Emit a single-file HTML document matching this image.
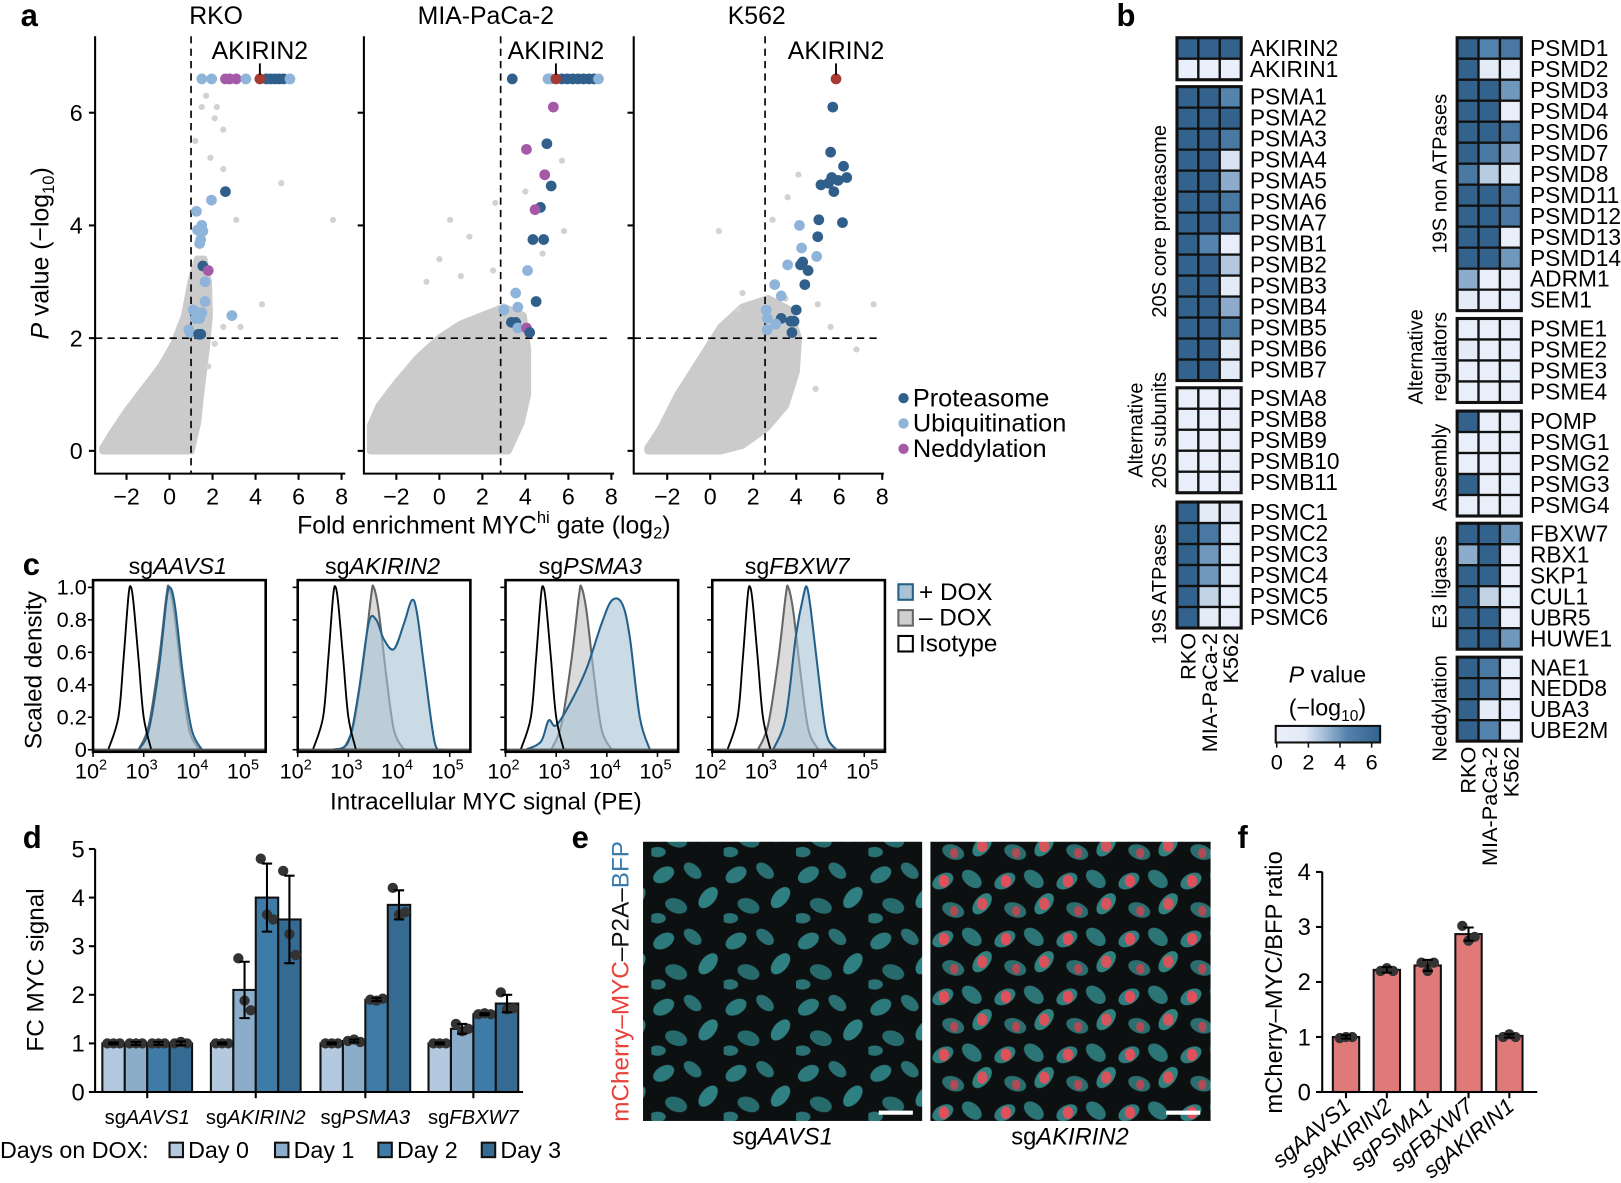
<!DOCTYPE html>
<html><head><meta charset="utf-8">
<style>
html,body{margin:0;padding:0;background:#fff;overflow:hidden}
svg{display:block;font-family:"Liberation Sans",Arial,sans-serif}
</style></head>
<body>
<svg id="fig" width="1621" height="1183" viewBox="0 0 1568 1144" preserveAspectRatio="none">
<defs>
<linearGradient id="pgrad" x1="0" x2="1" y1="0" y2="0">
<stop offset="0" stop-color="#eaf0fb"/><stop offset="0.27" stop-color="#e2eaf6"/><stop offset="0.45" stop-color="#a9c0d9"/><stop offset="0.68" stop-color="#5483ae"/><stop offset="1" stop-color="#33628d"/>
</linearGradient>
<pattern id="cells1" width="70" height="64" patternUnits="userSpaceOnUse">
<rect width="70" height="64" fill="#0d1011"/>
<ellipse cx="12" cy="14" rx="11" ry="7" fill="#2c7a7c" transform="rotate(-30 12 14)"/>
<ellipse cx="40" cy="10" rx="10" ry="6" fill="#2a6f71" transform="rotate(40 40 10)"/>
<ellipse cx="55" cy="36" rx="12" ry="7" fill="#2f8082" transform="rotate(-50 55 36)"/>
<ellipse cx="24" cy="44" rx="11" ry="7" fill="#276a6c" transform="rotate(20 24 44)"/>
<ellipse cx="6" cy="56" rx="8" ry="5" fill="#2a7274"/>
</pattern>
<pattern id="cells2" width="60" height="56" patternUnits="userSpaceOnUse">
<rect width="60" height="56" fill="#0d1011"/>
<ellipse cx="12" cy="12" rx="11" ry="7" fill="#2f7d7f" transform="rotate(-30 12 12)"/>
<ellipse cx="40" cy="10" rx="11" ry="7" fill="#2c7577" transform="rotate(40 40 10)"/>
<ellipse cx="50" cy="34" rx="12" ry="7" fill="#30827f" transform="rotate(-50 50 34)"/>
<ellipse cx="22" cy="40" rx="11" ry="7" fill="#2a6e70" transform="rotate(20 22 40)"/>
<ellipse cx="13" cy="12" rx="5" ry="6" fill="#e0505a"/>
<ellipse cx="50" cy="34" rx="5" ry="6" fill="#d8545c"/>
<ellipse cx="23" cy="41" rx="4" ry="5" fill="#b04a55"/>
</pattern>
</defs>
</svg>
<script>
// ---------- DATA ----------
const aPanels = ['RKO','MIA-PaCa-2','K562'];
const aThreshX = [1, 2.85, 2.55];
const aThreshY = 2;
const aXTicks = [-2,0,2,4,6,8];
const aYTicks = [0,2,4,6];
const rkoX = [1.5,1.96,2.6,2.8,3.1,3.55,4.2,4.5,4.7,4.9,5.1,5.3,5.6, 2.6,1.95,1.25,1.5,1.3,1.55,1.45,1.4,1.55,1.8,1.65,1.65,1.1,1.3,1.5,1.2,1.4,2.9,0.9,0.95,1.35,1.45];
const rkoY = [6.6,6.6,6.6,6.6,6.6,6.6,6.6,6.6,6.6,6.6,6.6,6.6,6.6, 4.6,4.45,4.25,4.0,3.92,3.9,3.75,3.68,3.28,3.2,3.0,2.65,2.5,2.45,2.45,2.35,2.35,2.4,2.15,2.1,2.07,2.07];
const rkoCat = ['U','U','N','N','N','U','A','P','P','P','P','P','U', 'P','U','U','U','U','U','U','U','P','N','U','U','U','U','U','U','U','U','U','U','P','P'];
const miaX = [3.39,5.05,5.2,5.42,5.7,5.95,6.2,6.45,6.7,6.95,7.2,7.4, 5.3,5.0,4.05,4.9,5.2,4.7,4.45,4.35,4.85,4.1,3.55,4.5,3.0,3.65,3.35,3.55,3.65,4.05,4.2];
const miaY = [6.6,6.6,6.6,6.6,6.6,6.6,6.6,6.6,6.6,6.6,6.6,6.6, 6.1,5.45,5.35,4.9,4.7,4.32,4.28,3.75,3.75,3.2,2.8,2.65,2.5,2.55,2.28,2.28,2.18,2.18,2.1];
const miaCat = ['P','U','U','A','P','P','P','P','P','P','P','U', 'N','P','N','N','P','P','N','P','P','U','U','P','U','U','P','P','U','N','P'];
const k562X = [5.85,5.7,5.6,6.2,6.35,5.65,5.95,5.5,5.75,5.15,6.15,5.05,4.15,5.0,4.25,4.95,4.3,4.2,4.55,3.6,4.4,3.0,3.3,2.6,4.0,2.65,3.3,3.75,3.9,3.05,3.8,2.65];
const k562Y = [6.6,6.1,5.3,5.05,4.85,4.85,4.8,4.75,4.6,4.72,4.05,4.1,4.0,3.8,3.6,3.45,3.35,3.3,3.2,3.3,2.95,2.95,2.75,2.5,2.5,2.35,2.35,2.3,2.3,2.25,2.1,2.15];
const k562Cat = ['A','P','P','P','P','P','P','P','P','P','P','P','U','P','U','U','P','P','P','U','P','U','U','U','P','U','P','P','P','U','P','U'];
const cloudRkoX = [-3.1,1.0,1.3,1.5,1.7,1.85,1.8,1.6,1.3,1.0,0.7,0.2,-0.4,-1.2,-2.0,-2.7,-3.1];
const cloudRkoY = [0,0,0.5,1.2,1.8,2.4,3.0,3.4,3.4,3.0,2.4,1.9,1.5,1.1,0.7,0.3,0.05];
const cloudMiaX = [-3.2,3.2,3.8,4.1,4.1,3.9,3.0,2.0,1.0,0,-1,-2,-2.8,-3.2];
const cloudMiaY = [0,0,0.5,1.0,1.8,2.4,2.55,2.4,2.25,2.0,1.65,1.2,0.8,0.45];
const cloudK562X = [-2.9,0.5,1.5,2.6,3.5,4.0,4.1,3.7,2.7,1.5,0.5,-0.5,-1.5,-2.3,-2.9];
const cloudK562Y = [0,0,0.1,0.4,0.8,1.4,2.0,2.5,2.7,2.55,2.2,1.6,1.0,0.4,0.05];
const outRkoX = [1.7,1.5,2.2,2.1,2.5,1.2,1.9,2.5,5.2,7.6,3.1,4.3,3.3,2.1,2.5,1.8];
const outRkoY = [6.3,6.1,6.1,5.9,5.7,5.5,5.2,5.0,4.75,4.1,4.1,2.6,2.2,1.9,2.2,1.5];
const outMiaX = [0.5,1.4,2.6,5.7,5.8,4.0,0,1,-0.6,4.8,2.5];
const outMiaY = [4.1,3.8,4.4,5.15,3.9,4.6,3.4,3.1,3.0,3.5,3.2];
const outK562X = [0.4,1.5,1.3,3.6,2.9,4.1,5.0,5.6,6.8,7.6,4.9,3.5];
const outK562Y = [3.9,2.8,2.5,4.5,4.1,4.9,2.6,2.2,1.8,2.6,1.1,2.7];

const bGenesL = ['AKIRIN2','AKIRIN1','PSMA1','PSMA2','PSMA3','PSMA4','PSMA5','PSMA6','PSMA7','PSMB1','PSMB2','PSMB3','PSMB4','PSMB5','PSMB6','PSMB7','PSMA8','PSMB8','PSMB9','PSMB10','PSMB11','PSMC1','PSMC2','PSMC3','PSMC4','PSMC5','PSMC6'];
const bRkoL  = [6.6,0,6,6,6,6,6,6,6,6,6,6,6,6,6,6,0.2,0.2,0.2,0.2,0.2,6,6,6,6,6,6];
const bMiaL  = [6.6,0,6,6,6,6,6,6,6,4.5,6,6,6,6,6,6,0.2,0.2,0.2,0.2,0.2,1.5,5,4,4,2.5,1.5];
const bK562L = [6.6,0,4.5,6,5,2,3.5,5,5,0.3,2.8,1.5,3.5,5,1.8,1.8,0.2,0.2,0.2,0.2,0.2,0.8,0.3,0.3,0.3,0.3,0.3];
const bGroupSizesL = [2,14,5,6];
const bGroupNamesL = [[''],['20S core proteasome'],['Alternative','20S subunits'],['19S ATPases']];
const bGenesR = ['PSMD1','PSMD2','PSMD3','PSMD4','PSMD6','PSMD7','PSMD8','PSMD11','PSMD12','PSMD13','PSMD14','ADRM1','SEM1','PSME1','PSME2','PSME3','PSME4','POMP','PSMG1','PSMG2','PSMG3','PSMG4','FBXW7','RBX1','SKP1','CUL1','UBR5','HUWE1','NAE1','NEDD8','UBA3','UBE2M'];
const bRkoR  = [6,6,6,6,6,6,5,6,6,6,6,3.5,1.5,0.3,1.5,0.3,0.3,6,0.3,0.3,6,0.3,6,3.5,6,6,6,6,6,6,6,6];
const bMiaR  = [4.5,1.5,6,6,6,5,2.7,6,6,6,6,0.3,0.3,0.3,0.3,0.3,0.3,0.3,0.3,0.3,0.3,0.3,6,6,6,2.5,6,6,5,5,1.5,4.5];
const bK562R = [5,0.6,4,0.3,5,3.5,1.5,5,5,0.3,4,0.3,0.3,0.3,0.3,0.3,0.3,0.3,0.3,0.3,0.3,0.3,4,0.3,0.3,0.3,0.3,4,0.3,0.3,0.3,0.3];
const bGroupSizesR = [13,4,5,6,4];
const bGroupNamesR = [['19S non ATPases'],['Alternative','regulators'],['Assembly'],['E3 ligases'],['Neddylation']];
const bLines = ['RKO','MIA-PaCa-2','K562'];
const bScaleTicks = [0,2,4,6];

const cTitles = ['AAVS1','AKIRIN2','PSMA3','FBXW7'];
const cIsoX = [2.3,2.5,2.6,2.7,2.75,2.8,2.9,3.0,3.15];
const cIsoY = [0,0.2,0.55,0.95,1,0.9,0.55,0.2,0];
const cMinusX = [2.9,3.1,3.3,3.45,3.5,3.6,3.75,3.9,4.1];
const cMinusY = [0,0.15,0.55,0.95,1,0.85,0.45,0.12,0];
const cPlusX_AAVS1 = [2.9,3.1,3.3,3.45,3.52,3.62,3.78,3.95,4.15];
const cPlusY_AAVS1 = [0,0.12,0.5,0.92,1,0.88,0.45,0.12,0];
const cPlusX_AKIRIN2 = [2.7,3.0,3.2,3.4,3.55,3.7,3.9,4.1,4.25,4.35,4.5,4.7,4.85];
const cPlusY_AKIRIN2 = [0,0.05,0.35,0.78,0.8,0.68,0.62,0.78,0.92,0.85,0.5,0.05,0];
const cPlusX_PSMA3 = [2.4,2.7,2.85,3.0,3.3,3.6,3.9,4.1,4.3,4.45,4.65,4.85];
const cPlusY_PSMA3 = [0,0.05,0.18,0.15,0.3,0.5,0.78,0.92,0.9,0.7,0.2,0];
const cPlusX_FBXW7 = [3.2,3.45,3.65,3.8,3.87,3.95,4.1,4.25,4.45];
const cPlusY_FBXW7 = [0,0.2,0.7,0.95,1,0.85,0.45,0.1,0];
const cYTicks = [0,0.2,0.4,0.6,0.8,1.0];
const cXTicks = [2,3,4,5];

const dGroups = ['AAVS1','AKIRIN2','PSMA3','FBXW7'];
const dDay0 = [1,1,1,1];
const dDay1 = [1,2.1,1.05,1.3];
const dDay2 = [1,4.0,1.9,1.6];
const dDay3 = [1,3.55,3.85,1.82];
const dErr0 = [0.02,0.02,0.02,0.02];
const dErr1 = [0.03,0.58,0.03,0.1];
const dErr2 = [0.03,0.7,0.03,0.02];
const dErr3 = [0.04,0.9,0.3,0.18];
const dPts1 = [[1,1,1],[2.75,1.88,1.68],[1.05,1.08,1.03],[1.4,1.25,1.3]];
const dPts2 = [[1,1,1],[4.8,3.65,3.55],[1.9,1.88,1.92],[1.6,1.62,1.6]];
const dPts3 = [[1,1.03,1],[4.55,3.25,2.82],[4.2,3.65,3.7],[2.05,1.7,1.72]];
const dDays = ['Day 0','Day 1','Day 2','Day 3'];
const dYTicks = [0,1,2,3,4,5];

const fCats = ['AAVS1','AKIRIN2','PSMA1','FBXW7','AKIRIN1'];
const fVals = [1.0,2.22,2.3,2.87,1.02];
const fErr = [0.03,0.05,0.1,0.12,0.03];
const fPts = [[0.98,1.0,1.0],[2.2,2.25,2.2],[2.35,2.2,2.35],[3.02,2.75,2.82],[1.0,1.05,1.0]];
const fYTicks = [0,1,2,3,4];

// ---------- HELPERS ----------
const NS='http://www.w3.org/2000/svg';
const fig=document.getElementById('fig');
function mk(tag,attrs,parent){const e=document.createElementNS(NS,tag);for(const k in attrs)e.setAttribute(k,attrs[k]);(parent||fig).appendChild(e);return e;}
function tx(x,y,s,size,attrs,parent){const e=mk('text',Object.assign({x:x,y:y,'font-size':size},attrs||{}),parent);e.textContent=s;return e;}
function sp(parent,s,attrs){const t=mk('tspan',attrs||{},parent);t.textContent=s;return t;}
function smooth(pts){let d='M'+pts[0][0]+','+pts[0][1];for(let i=0;i<pts.length-1;i++){const p0=pts[i-1]||pts[i],p1=pts[i],p2=pts[i+1],p3=pts[i+2]||p2;const c1=[p1[0]+(p2[0]-p0[0])/6,p1[1]+(p2[1]-p0[1])/6],c2=[p2[0]-(p3[0]-p1[0])/6,p2[1]-(p3[1]-p1[1])/6];d+=' C'+c1[0]+','+c1[1]+' '+c2[0]+','+c2[1]+' '+p2[0]+','+p2[1];}return d;}
function panelLetter(x,y,s){const e=tx(x,y,s,30,{'font-weight':'bold'});

}
const catColor={P:'#2f5f8a',U:'#8fb4da',N:'#a55aa8',A:'#a63b32'};

// ---------- PANEL A ----------
panelLetter(20,25,'a');
const aAxisX=[92,352,613], aZeroX=[164,425,687];
const AU=20.8, AY0=436, AYU=54.5;
const aData=[[rkoX,rkoY,rkoCat],[miaX,miaY,miaCat],[k562X,k562Y,k562Cat]];
const aCloud=[[cloudRkoX,cloudRkoY],[cloudMiaX,cloudMiaY],[cloudK562X,cloudK562Y]];
const aOut=[[outRkoX,outRkoY],[outMiaX,outMiaY],[outK562X,outK562Y]];
for(let i=0;i<3;i++){
  const xs=v=>aZeroX[i]+v*AU, ys=v=>AY0-v*AYU;
  const g=mk('g',{});
  
  
  const t=tx(aZeroX[i]+45,23,aPanels[i],24,{'text-anchor':'middle'},g);
  
  
  const cl=aCloud[i];
  const poly=mk('polygon',{points:cl[0].map((v,k)=>xs(v)+','+ys(cl[1][k])).join(' '),fill:'#cbcbcb',stroke:'#cbcbcb','stroke-width':7,'stroke-linejoin':'round'},g);
  
  
  const ou=aOut[i];
  for(let k=0;k<ou[0].length;k++){const c=mk('circle',{cx:xs(ou[0][k]),cy:ys(ou[1][k]),r:3,fill:'#d2d2d2'},g);
  
  }
  const ax=mk('path',{d:'M'+aAxisX[i]+',35 V458 H'+(aAxisX[i]+242),fill:'none',stroke:'#000','stroke-width':2},g);
  
  
  aXTicks.forEach(v=>{mk('line',{x1:xs(v),x2:xs(v),y1:458,y2:464,stroke:'#000','stroke-width':2},g);
    const l=tx(xs(v),488,(v<0?'\u2212':'')+Math.abs(v),22.5,{'text-anchor':'middle'},g);
    
    });
  aYTicks.forEach(v=>{mk('line',{x1:aAxisX[i]-6,x2:aAxisX[i],y1:ys(v),y2:ys(v),stroke:'#000','stroke-width':2},g);
    if(i===0){const l=tx(aAxisX[i]-12,ys(v)+8,String(v),22.5,{'text-anchor':'end'},g);
    
    }});
  const hl=mk('line',{x1:aAxisX[i],x2:aAxisX[i]+240,y1:ys(aThreshY),y2:ys(aThreshY),stroke:'#000','stroke-width':1.6,'stroke-dasharray':'7,5'},g);
  
  
  const vl=mk('line',{x1:xs(aThreshX[i]),x2:xs(aThreshX[i]),y1:35,y2:458,stroke:'#000','stroke-width':1.6,'stroke-dasharray':'7,5'},g);
  
  
  const d=aData[i];
  const order=[...d[0].keys()].sort((a,b)=>(d[2][a]==='A')-(d[2][b]==='A'));
  order.forEach(k=>{const c=mk('circle',{cx:xs(d[0][k]),cy:ys(d[1][k]),r:5.2,fill:catColor[d[2][k]]},g);
    
    
    if(d[2][k]==='A'){
      const ln=mk('line',{x1:xs(d[0][k]),x2:xs(d[0][k]),y1:ys(d[1][k])-15,y2:ys(d[1][k])-4,stroke:'#000','stroke-width':1.8},g);
      
      
      const at=tx(xs(d[0][k]),ys(d[1][k])-19,'AKIRIN2',24,{'text-anchor':'middle'},g);
      
      
    }});
}
const axl=tx(468,516,'Fold enrichment MYC',24,{'text-anchor':'middle'});
sp(axl,'hi',{'font-size':16,dy:-10});sp(axl,' gate (log',{dy:10});sp(axl,'2',{'font-size':16,dy:5});sp(axl,')',{dy:-5});


const ayl=tx(0,0,'',24,{'text-anchor':'middle',transform:'translate(47,245) rotate(-90)'});
sp(ayl,'P',{'font-style':'italic'});sp(ayl,' value (\u2212log');sp(ayl,'10',{'font-size':16,dy:5});sp(ayl,')',{dy:-5});


[['P','Proteasome'],['U','Ubiquitination'],['N','Neddylation']].forEach((e,k)=>{
  const g=mk('g',{});
  
  
  mk('circle',{cx:874,cy:385+k*24.5,r:5,fill:catColor[e[0]]},g);
  tx(883,393+k*24.5,e[1],24.5,{},g);
});

// ---------- PANEL B ----------
panelLetter(1080,25,'b');
function heatColor(v){const st=[[0,[234,240,251]],[1.8,[226,234,246]],[3,[169,192,217]],[4.5,[84,131,174]],[6,[51,98,141]],[6.6,[51,98,141]]];
  for(let i=0;i<st.length-1;i++){if(v<=st[i+1][0]){const t=(v-st[i][0])/(st[i+1][0]-st[i][0]);const c=st[i][1].map((a,j)=>Math.round(a+(st[i+1][1][j]-a)*t));return 'rgb('+c.join(',')+')';}}return 'rgb(51,98,141)';}
const RH=20.3, CW=20.7;
function heatCol(x0,genes,v1,v2,v3,sizes,starts,names,labX,grpX,labCenters){
  let idx=0;
  sizes.forEach((n,gi)=>{
    const g=mk('g',{});
    
    
    const y0=starts[gi];
    for(let r=0;r<n;r++,idx++){
      [v1,v2,v3].forEach((arr,c)=>{const rc=mk('rect',{x:x0+c*CW,y:y0+r*RH,width:CW,height:RH,fill:heatColor(arr[idx]),stroke:'#111','stroke-width':2.2},g);
        
        });
      const gl=tx(labX,y0+r*RH+17.5,genes[idx],22,{},g);
      
      
    }
    mk('rect',{x:x0,y:y0,width:3*CW,height:n*RH,fill:'none',stroke:'#111','stroke-width':3},g);
    const nm=names[gi];const cy=labCenters[gi];
    nm.forEach((s,k)=>{if(!s)return;const xx=grpX-(nm.length-1-k)*23;
      const gt=tx(0,0,s,19.5,{'text-anchor':'middle',transform:'translate('+xx+','+cy+') rotate(-90)'},g);
      
      });
  });
}
heatCol(1138.5,bGenesL,bRkoL,bMiaL,bK562L,bGroupSizesL,[36.5,83.8,375,485.5],bGroupNamesL,1209,1128,[57,214,416,565]);
heatCol(1409.5,bGenesR,bRkoR,bMiaR,bK562R,bGroupSizesR,[36.5,308,397.5,506,635.5],bGroupNamesR,1480,1399,[168,345,452,563,685]);
[[1138.5,612],[1409.5,722]].forEach(p=>{bLines.forEach((s,c)=>{
  const t=tx(0,0,s,21,{'text-anchor':'end',transform:'translate('+(p[0]+c*CW+CW/2+7.5)+','+p[1]+') rotate(-90)'});
  
  });});
const cbT=tx(1284,660,'',22.5,{'text-anchor':'middle'});sp(cbT,'P',{'font-style':'italic'});sp(cbT,' value');


const cbT2=tx(1284,692,'(\u2212log',22.5,{'text-anchor':'middle'});sp(cbT2,'10',{'font-size':15,dy:5});sp(cbT2,')',{dy:-5});


const cb=mk('rect',{x:1234,y:702,width:101,height:16,fill:'url(#pgrad)',stroke:'#111','stroke-width':2});


bScaleTicks.forEach(v=>{const x=1235+v*15.3;mk('line',{x1:x,x2:x,y1:718,y2:723,stroke:'#111','stroke-width':1.5});
  const l=tx(x,744,String(v),21,{'text-anchor':'middle'});
  
  });

// ---------- PANEL C ----------
panelLetter(22,556,'c');
const cBoxX=[90,288,489,689];
const cPlus=[[cPlusX_AAVS1,cPlusY_AAVS1],[cPlusX_AKIRIN2,cPlusY_AKIRIN2],[cPlusX_PSMA3,cPlusY_PSMA3],[cPlusX_FBXW7,cPlusY_FBXW7]];
const CY0=725, CYU=157, CDEC=49;
for(let i=0;i<4;i++){
  const xl=l=>cBoxX[i]+(l-2)*CDEC, yd=v=>CY0-v*CYU;
  const g=mk('g',{});
  
  
  const tt=tx(cBoxX[i]+82,555,'sg',22.5,{'text-anchor':'middle'},g);sp(tt,cTitles[i],{'font-style':'italic'});
  
  
  const mpts=cMinusX.map((v,k)=>[xl(v),yd(cMinusY[k])]);
  const mp=mk('path',{d:smooth(mpts)+' Z',fill:'#cfcfcf','fill-opacity':0.75,stroke:'#666','stroke-width':2},g);
  
  
  const pp=cPlus[i][0].map((v,k)=>[xl(v),yd(cPlus[i][1][k])]);
  const pl=mk('path',{d:smooth(pp)+' Z',fill:'#a9c3d6','fill-opacity':0.6,stroke:'#23608a','stroke-width':2},g);
  
  
  const ip=cIsoX.map((v,k)=>[xl(v),yd(cIsoY[k])]);
  const il=mk('path',{d:smooth(ip),fill:'none',stroke:'#000','stroke-width':1.8},g);
  
  
  mk('line',{x1:cBoxX[i],x2:cBoxX[i]+167,y1:CY0,y2:CY0,stroke:'#555','stroke-width':2},g);
  const bx=mk('rect',{x:cBoxX[i],y:561,width:167,height:166,fill:'none',stroke:'#000','stroke-width':2.5},g);
  
  
  cYTicks.forEach(v=>{mk('line',{x1:cBoxX[i]-5,x2:cBoxX[i],y1:yd(v),y2:yd(v),stroke:'#000','stroke-width':1.5},g);
    if(i===0){const l=tx(cBoxX[i]-6,yd(v)+7,v===0?'0':v.toFixed(1),21,{'text-anchor':'end'},g);
    
    }});
  cXTicks.forEach(v=>{mk('line',{x1:xl(v),x2:xl(v),y1:727,y2:732,stroke:'#000','stroke-width':1.5},g);
    const l=tx(xl(v)-2,753,'10',21,{'text-anchor':'middle'},g);sp(l,String(v),{'font-size':14,dy:-9});
    
    });
}
const cxl=tx(470,783,'Intracellular MYC signal (PE)',23.5,{'text-anchor':'middle'});


const cyl=tx(0,0,'Scaled density',23.5,{'text-anchor':'middle',transform:'translate(40,648) rotate(-90)'});


[['#a9c3d6','#23608a','+ DOX'],['#cfcfcf','#666','\u2013 DOX'],['#fff','#000','Isotype']].forEach((e,k)=>{
  const g=mk('g',{});
  
  
  mk('rect',{x:869,y:565+k*25,width:14,height:15,fill:e[0],stroke:e[1],'stroke-width':2},g);
  tx(889,580+k*25,e[2],23.5,{},g);
});

// ---------- PANEL D ----------
panelLetter(22,820,'d');
const dStart=[99,204,310,414.5], DBW=21.7, DY0=1056, DYU=47;
const dColors=['#b3c9df','#8badc9','#3e7ba7','#356b93'];
const dVals=[dDay0,dDay1,dDay2,dDay3], dErrs=[dErr0,dErr1,dErr2,dErr3], dPts=[null,dPts1,dPts2,dPts3];
const yD=v=>DY0-v*DYU;
dGroups.forEach((gname,gi)=>{
  const g=mk('g',{});
  
  
  for(let d=0;d<4;d++){
    const v=dVals[d][gi], x=dStart[gi]+d*DBW, cx=x+DBW/2;
    const b=mk('rect',{x:x,y:yD(v),width:DBW,height:DY0-yD(v),fill:dColors[d],stroke:'#111','stroke-width':2},g);
    
    
    const pts=d===0?[1,1,1]:dPts[d][gi];
    pts.forEach((p,k)=>{const c=mk('circle',{cx:cx+(k-1)*6,cy:yD(p),r:5,fill:'#333'},g);
      
      });
    const e=dErrs[d][gi];
    const eb=mk('path',{d:'M'+(cx-5)+','+yD(v+e)+' H'+(cx+5)+' M'+cx+','+yD(v+e)+' V'+yD(v-e)+' M'+(cx-5)+','+yD(v-e)+' H'+(cx+5),stroke:'#000','stroke-width':2,fill:'none'},g);
    
    
  }
  const c=dStart[gi]+2*DBW;
  mk('line',{x1:c,x2:c,y1:DY0,y2:DY0+6,stroke:'#000','stroke-width':2},g);
  const l=tx(c,1087,'sg',19.5,{'text-anchor':'middle'},g);sp(l,gname,{'font-style':'italic'});
  
  
});
const dax=mk('path',{d:'M92,821 V1056 H506',fill:'none',stroke:'#000','stroke-width':2});


dYTicks.forEach(v=>{mk('line',{x1:86,x2:92,y1:yD(v),y2:yD(v),stroke:'#000','stroke-width':2});
  const l=tx(82,yD(v)+8,String(v),23,{'text-anchor':'end'});
  
  });
const dyl=tx(0,0,'FC MYC signal',23.5,{'text-anchor':'middle',transform:'translate(42,938) rotate(-90)'});


const dlt=tx(0,1120,'Days on DOX:',22.5,{});


const dLegX=[164,266,366,466];
dDays.forEach((s,k)=>{const g=mk('g',{});
  
  
  mk('rect',{x:dLegX[k],y:1105,width:13,height:14,fill:dColors[k],stroke:'#111','stroke-width':2},g);
  tx(dLegX[k]+18,1120,s,22.5,{},g);});

// ---------- PANEL E ----------
panelLetter(553,820,'e');
const im1=mk('rect',{x:622,y:814,width:270,height:270,fill:'url(#cells1)'});


const im2=mk('rect',{x:900,y:814,width:271,height:270,fill:'url(#cells2)'});


[[850,1074],[1128,1074]].forEach(p=>{const s=mk('rect',{x:p[0],y:p[1],width:33,height:4,fill:'#fff'});
  
  });
[['AAVS1',757],['AKIRIN2',1035]].forEach(p=>{const l=tx(p[1],1107,'sg',23,{'text-anchor':'middle'});sp(l,p[0],{'font-style':'italic'});
  
  });
const ev=tx(0,0,'',23.5,{'text-anchor':'middle',transform:'translate(608,949) rotate(-90)'});
sp(ev,'mCherry\u2013MYC',{fill:'#e8413a'});sp(ev,'\u2013P2A\u2013',{fill:'#111'});sp(ev,'BFP',{fill:'#3a7cad'});



// ---------- PANEL F ----------
panelLetter(1197,820,'f');
const fX0=1302, fStep=39.5, FBW=25.5, FY0=1056, FYU=53.2;
const yF=v=>FY0-v*FYU;
fCats.forEach((cname,i)=>{
  const cx=fX0+i*fStep, v=fVals[i];
  const b=mk('rect',{x:cx-FBW/2,y:yF(v),width:FBW,height:FY0-yF(v),fill:'#e07a78',stroke:'#111','stroke-width':2});
  
  
  fPts[i].forEach((p,k)=>{const c=mk('circle',{cx:cx+(k-1)*6,cy:yF(p),r:5,fill:'#333'});
    
    });
  const e=fErr[i];
  const eb=mk('path',{d:'M'+(cx-5)+','+yF(v+e)+' H'+(cx+5)+' M'+cx+','+yF(v+e)+' V'+yF(v-e)+' M'+(cx-5)+','+yF(v-e)+' H'+(cx+5),stroke:'#000','stroke-width':2,fill:'none'});
  
  
  mk('line',{x1:cx,x2:cx,y1:FY0,y2:FY0+6,stroke:'#000','stroke-width':2});
  const l=tx(0,0,'sg'+cname,21.5,{'text-anchor':'end','font-style':'italic',transform:'translate('+(cx+6)+',1072) rotate(-40)'});
  
  
});
const fax=mk('path',{d:'M1279,843 V1056 H1487',fill:'none',stroke:'#000','stroke-width':2});


fYTicks.forEach(v=>{mk('line',{x1:1273,x2:1279,y1:yF(v),y2:yF(v),stroke:'#000','stroke-width':2});
  const l=tx(1268,yF(v)+8,String(v),23,{'text-anchor':'end'});
  
  });
const fyl=tx(0,0,'mCherry\u2013MYC/BFP ratio',23,{'text-anchor':'middle',transform:'translate(1240,950) rotate(-90)'});


</script>
</body></html>
